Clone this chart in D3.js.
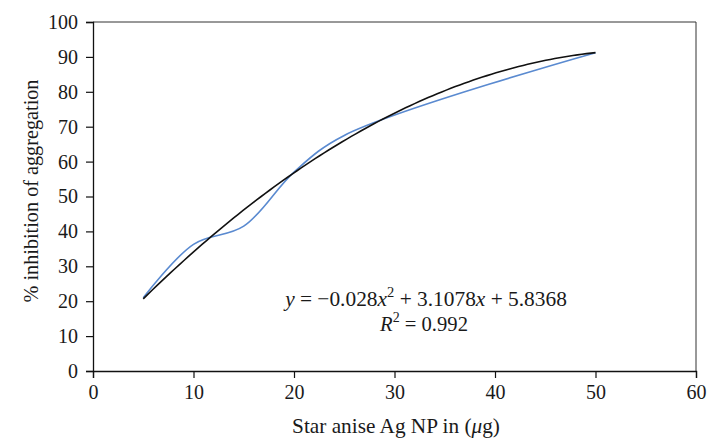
<!DOCTYPE html>
<html><head><meta charset="utf-8">
<script src="https://cdn.jsdelivr.net/npm/d3@7"></script>
<style>
html,body{margin:0;padding:0;background:#fff;}
svg text{font-family:"Liberation Serif","Times New Roman",serif;fill:#1a1a1a;}
</style></head>
<body><svg id="c" width="707" height="440"></svg>
<script>
const doses = [5, 10, 15, 20, 25, 50];
const inhibition = [21, 36.3, 41.5, 57, 67.5, 91.2];
const trendCoef = [-0.028, 3.1078, 5.8368]; // a, b, c
const xTicks = [0, 10, 20, 30, 40, 50, 60];
const yTicks = [0, 10, 20, 30, 40, 50, 60, 70, 80, 90, 100];

const svg = d3.select("#c");
const L = 93, R = 696, T = 22, B = 371;
const x = d3.scaleLinear().domain([0, 60]).range([L, R]);
const y = d3.scaleLinear().domain([0, 100]).range([B, T]);

function fitSize(sel, target, base) {
  const w = sel.node().getComputedTextLength();
  const s = base * target / w;
  sel.style("font-size", s + "px");
  sel.selectAll("tspan.sup").style("font-size", (s * 0.68) + "px").each(function(){
    const t = d3.select(this); if (+t.attr("dy") < 0) t.attr("dy", -s*0.42); });
  sel.selectAll("tspan.down").attr("dy", s*0.42);
}

// frame top & right
svg.append("path").attr("d", `M${L},${T}H${R}V${B}`).attr("fill","none").attr("stroke","#333").attr("stroke-width",1);

const xAxis = svg.append("g").attr("transform", `translate(0,${B})`)
  .call(d3.axisBottom(x).tickValues(xTicks).tickSize(7).tickPadding(7).tickFormat(d3.format("d")));
const yAxis = svg.append("g").attr("transform", `translate(${L},0)`)
  .call(d3.axisLeft(y).tickValues(yTicks).tickSize(7).tickPadding(8).tickFormat(d3.format("d")));
[xAxis, yAxis].forEach(g => {
  g.attr("font-family", null).attr("font-size", null);
  g.select(".domain").attr("stroke","#111").attr("stroke-width",1.3);
  g.selectAll(".tick line").attr("stroke","#111").attr("stroke-width",1.2);
  g.selectAll(".tick text").style("font-family","'Liberation Serif',serif").style("font-size","20px").attr("fill","#1a1a1a");
});

// blue data line (smoothed)
const pts = doses.map((d,i)=>[d, inhibition[i]]);
svg.append("path").datum(pts)
  .attr("d", d3.line().x(d=>x(d[0])).y(d=>y(d[1])).curve(d3.curveCatmullRom.alpha(0.5)))
  .attr("fill","none").attr("stroke","#5a8ad0").attr("stroke-width",1.6);

// polynomial trendline
const f = v => trendCoef[0]*v*v + trendCoef[1]*v + trendCoef[2];
const tx = d3.range(0, 101).map(i => doses[0] + (doses[doses.length-1]-doses[0])*i/100);
svg.append("path").datum(tx)
  .attr("d", d3.line().x(d=>x(d)).y(d=>y(f(d))))
  .attr("fill","none").attr("stroke","#111").attr("stroke-width",1.6);

// equation
const eq = svg.append("text").attr("x", 426).attr("y", 306).attr("text-anchor","middle").style("font-size","19px");
eq.append("tspan").style("font-style","italic").text("y");
eq.append("tspan").text(" = \u22120.028");
eq.append("tspan").style("font-style","italic").text("x");
eq.append("tspan").attr("class","sup").attr("dy",-8).style("font-size","13px").text("2");
eq.append("tspan").attr("class","down").attr("dy",8).text(" + 3.1078");
eq.append("tspan").style("font-style","italic").text("x");
eq.append("tspan").text(" + 5.8368");
fitSize(eq, 282, 19);

const r2 = svg.append("text").attr("x", 424).attr("y", 331).attr("text-anchor","middle").style("font-size","19px");
r2.append("tspan").style("font-style","italic").text("R");
r2.append("tspan").attr("class","sup").attr("dy",-8).style("font-size","13px").text("2");
r2.append("tspan").attr("class","down").attr("dy",8).text(" = 0.992");
fitSize(r2, 88, 19);

// axis titles
const xt = svg.append("text").attr("x", 396).attr("y", 433).attr("text-anchor","middle").style("font-size","19px");
xt.append("tspan").text("Star anise Ag NP in (");
xt.append("tspan").style("font-style","italic").text("\u03bc");
xt.append("tspan").text("g)");
fitSize(xt, 208, 19);

const yt = svg.append("text").attr("transform","translate(38,191) rotate(-90)").attr("text-anchor","middle")
  .style("font-size","19px").text("% inhibition of aggregation");
fitSize(yt, 223, 19);
</script></body></html>
